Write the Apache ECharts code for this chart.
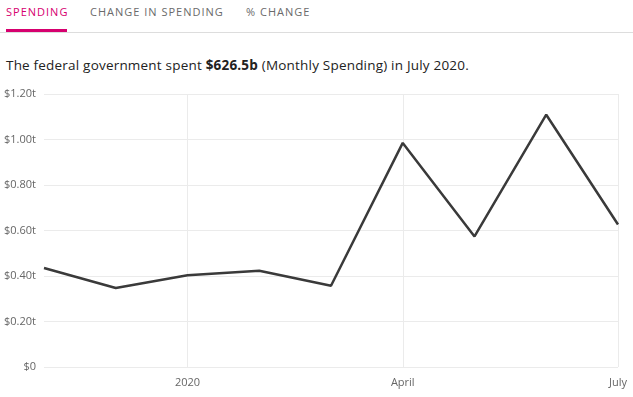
<!DOCTYPE html>
<html lang="en">
<head>
    <meta charset="UTF-8">
    <title>Monthly Spending</title>
    <script src="https://cdn.jsdelivr.net/npm/echarts@6/dist/echarts.min.js"></script>
    <style>
        html, body { margin: 0; padding: 0; background: #fff; }
        body { width: 633px; height: 397px; position: relative; overflow: hidden; font-family: "Segoe UI", "Open Sans", sans-serif; }
        .tabs { position: absolute; left: 0; top: 0; width: 633px; height: 32px; border-bottom: 1px solid #dddddd; }
        .tab { position: absolute; top: 4px; font-size: 11px; letter-spacing: 1px; color: #6a6a6a; line-height: 16px; white-space: nowrap; }
        .tab.active { color: #d6006f; }
        .underline { position: absolute; left: 6px; top: 29px; width: 61px; height: 3px; background: #d6006f; }
        .summary { position: absolute; left: 6px; top: 56px; font-size: 13.5px; letter-spacing: 0.2px; color: #222; white-space: nowrap; }
        #main { position: absolute; left: 0; top: 80px; width: 633px; height: 317px; }
    </style>
</head>
<body>
<div class="tabs">
    <span class="tab active" style="left:6px">SPENDING</span>
    <span class="tab" style="left:90px">CHANGE IN SPENDING</span>
    <span class="tab" style="left:246px">% CHANGE</span>
    <div class="underline"></div>
</div>
<div class="summary">The federal government spent <b>$626.5b</b> (Monthly Spending) in July 2020.</div>
<div id="main"></div>
<script type="text/javascript">
    // monthly outlays, trillions of dollars
    var months = ['Nov 2019', 'Dec 2019', 'Jan 2020', 'Feb 2020', 'Mar 2020', 'Apr 2020', 'May 2020', 'Jun 2020', 'Jul 2020'];
    var spending = [0.435, 0.347, 0.403, 0.423, 0.357, 0.985, 0.574, 1.109, 0.6265];
    // which months get a label on the x axis
    var tickLabels = {'Jan 2020': '2020', 'Apr 2020': 'April', 'Jul 2020': 'July'};
    var yTicks = [0, 0.2, 0.4, 0.6, 0.8, 1.0, 1.2];

    var myChart = echarts.init(document.getElementById('main'));

    function showTick(index) {
        return tickLabels[months[index]] !== undefined;
    }

    var option = {
        backgroundColor: '#fff',
        animation: false,
        grid: {
            left: 44,
            right: 15,
            top: 14,
            bottom: 30
        },
        xAxis: {
            type: 'category',
            data: months,
            boundaryGap: false,
            axisLine: { show: false },
            axisTick: { show: false },
            axisLabel: {
                interval: showTick,
                color: '#666',
                fontSize: 11,
                fontFamily: 'Segoe UI, Open Sans, sans-serif',
                margin: 10,
                formatter: function (v) { return tickLabels[v] || ''; }
            },
            splitLine: {
                show: true,
                interval: showTick,
                lineStyle: { color: '#ebebeb', width: 1 }
            }
        },
        yAxis: {
            type: 'value',
            min: yTicks[0],
            max: yTicks[yTicks.length - 1],
            interval: 0.2,
            axisLine: { show: false },
            axisTick: { show: false },
            axisLabel: {
                color: '#666',
                fontSize: 11,
                fontFamily: 'Segoe UI, Open Sans, sans-serif',
                margin: 8,
                formatter: function (v) {
                    return v === 0 ? '$0' : '$' + v.toFixed(2) + 't';
                }
            },
            splitLine: {
                lineStyle: { color: '#ebebeb', width: 1 }
            }
        },
        series: [{
            name: 'Monthly Spending',
            type: 'line',
            data: spending,
            symbol: 'none',
            lineStyle: { color: '#3a3a3a', width: 2.5 }
        }]
    };

    myChart.setOption(option);
</script>
</body>
</html>
